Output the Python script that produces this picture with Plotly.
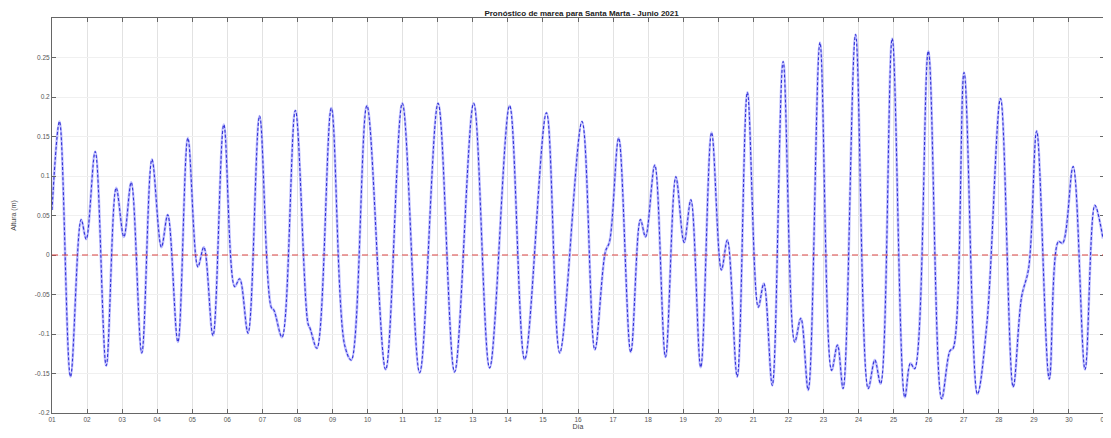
import plotly.graph_objects as go

# Extremos (tiempo en dias desde 01-Jun 00:00, altura en m)
tiempo_dias = [0.00, 0.214, 0.528, 0.832, 0.975, 1.232, 1.546, 1.83, 2.05, 2.26,
               2.56, 2.85, 3.12, 3.30, 3.59, 3.875, 4.16, 4.33, 4.59, 4.90,
               5.21, 5.35, 5.59, 5.92, 6.25, 6.33, 6.56, 6.94, 7.30, 7.36,
               7.555, 7.965, 8.345, 8.535, 8.98, 9.515, 9.99, 10.485, 11.01, 11.48,
               12.025, 12.48, 13.05, 13.48, 14.10, 14.48, 15.115, 15.48, 15.78, 15.90,
               16.16, 16.505, 16.78, 16.925, 17.19, 17.495, 17.79, 18.025, 18.22, 18.50,
               18.81, 19.09, 19.26, 19.54, 19.83, 20.14, 20.30, 20.54, 20.85, 21.18,
               21.355, 21.565, 21.90, 22.23, 22.40, 22.56, 22.915, 23.275, 23.465, 23.63,
               23.96, 24.32, 24.48, 24.60, 24.99, 25.37, 25.61, 25.70, 26.01, 26.39,
               26.66, 27.05, 27.41, 27.65, 27.85, 28.08, 28.44, 28.70, 28.82, 29.12,
               29.46, 29.74, 29.97]
altura_m = [0.057, 0.169, -0.154, 0.045, 0.020, 0.131, -0.140, 0.085, 0.023, 0.092,
            -0.124, 0.121, 0.010, 0.051, -0.110, 0.148, -0.015, 0.010, -0.102, 0.165,
            -0.040, -0.030, -0.099, 0.176, -0.066, -0.070, -0.104, 0.183, -0.087, -0.093,
            -0.118, 0.186, -0.114, -0.133, 0.189, -0.145, 0.192, -0.149, 0.192, -0.148,
            0.192, -0.143, 0.189, -0.132, 0.180, -0.124, 0.169, -0.120, 0.004, 0.017,
            0.148, -0.123, 0.045, 0.023, 0.114, -0.129, 0.099, 0.016, 0.070, -0.142,
            0.155, -0.019, 0.019, -0.154, 0.206, -0.066, -0.036, -0.165, 0.245, -0.110,
            -0.080, -0.171, 0.269, -0.146, -0.114, -0.169, 0.279, -0.169, -0.133, -0.163,
            0.274, -0.180, -0.137, -0.144, 0.258, -0.182, -0.121, -0.118, 0.231, -0.176,
            -0.087, 0.198, -0.167, -0.053, -0.017, 0.157, -0.157, 0.017, 0.015, 0.112,
            -0.145, 0.063, 0.021]

dias_ticks = list(range(0, 31))
etiquetas_dias = ["%02d" % d for d in range(1, 31)] + ["01"]
y_ticks = [-0.2, -0.15, -0.1, -0.05, 0, 0.05, 0.1, 0.15, 0.2, 0.25]
y_etiquetas = ["-0.2", "-0.15", "-0.1", "-0.05", "0", "0.05", "0.1", "0.15", "0.2", "0.25"]

FONT = "Liberation Sans, Arial, sans-serif"

fig = go.Figure()
fig.add_trace(go.Scatter(x=tiempo_dias, y=altura_m, mode="lines",
                         line=dict(color="rgba(130,130,255,0.5)", width=2.6, shape="spline", smoothing=1.0),
                         showlegend=False, hoverinfo="skip"))
fig.add_trace(go.Scatter(x=tiempo_dias, y=altura_m, mode="lines",
                         line=dict(color="#3434d6", width=1.1, shape="spline", smoothing=1.0, dash="3px,2px"),
                         showlegend=False))
fig.add_hline(y=0, line=dict(color="#d94040", width=1, dash="6px,4px"))

axis_common = dict(showline=True, linecolor="#666666", linewidth=1, mirror="ticks",
                   ticks="inside", ticklen=4, tickcolor="#666666", zeroline=False,
                   automargin=False,
                   tickfont=dict(family=FONT, size=6.5, color="#555555"))

fig.update_xaxes(range=[0, 30], tickvals=dias_ticks, ticktext=etiquetas_dias,
                 showgrid=True, gridcolor="#e2e2e2", gridwidth=1,
                 title=dict(text="Día", font=dict(family=FONT, size=7, color="#444444"), standoff=0),
                 **axis_common)
fig.update_yaxes(range=[-0.2, 0.3], tickvals=y_ticks, ticktext=y_etiquetas,
                 showgrid=True, gridcolor="#f0f0f0", gridwidth=1,
                 title=dict(text="Altura (m)", font=dict(family=FONT, size=7, color="#444444"), standoff=17),
                 **axis_common)

# the page adds an 8 px body margin; size the figure so the plot area lands where the reference has it
fig.update_layout(
    width=1103, height=430,
    margin=dict(l=44, r=7, t=10, b=25),
    paper_bgcolor="white", plot_bgcolor="white",
    title=dict(text="<b>Pronóstico de marea para Santa Marta - Junio 2021</b>",
               x=0.52, xanchor="center", y=0.995, yanchor="top",
               font=dict(family=FONT, size=8, color="#222222")),
)

fig.write_html("out.html")
